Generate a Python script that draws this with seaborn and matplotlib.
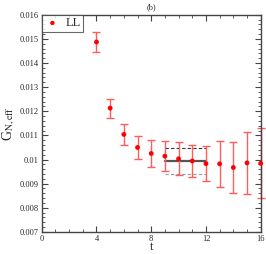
import matplotlib
matplotlib.use("Agg")
import matplotlib.pyplot as plt
from matplotlib.ticker import MultipleLocator
import seaborn as sns
import pandas as pd

# values
t = [4, 5, 6, 7, 8, 9, 10, 11, 12, 13, 14, 15, 16]
g_eff = [0.01487, 0.01213, 0.01104, 0.01050, 0.01025, 0.01014, 0.01003,
         0.00994, 0.00983, 0.00982, 0.00967, 0.00986, 0.00984]
g_err = [0.00040, 0.00039, 0.00045, 0.00048, 0.00057, 0.00062, 0.00068,
         0.00066, 0.00072, 0.00095, 0.00105, 0.00127, 0.00145]

# plateau fit over t = 9..12
fit_t = [9, 12]
fit_val = 0.00995
fit_hi = 0.01046
fit_lo = 0.00941

df = pd.DataFrame({"t": t, "G": g_eff, "err": g_err})

sns.set_style("ticks")
plt.rcParams["font.family"] = ["Liberation Serif", "DejaVu Serif"]
plt.rcParams["mathtext.fontset"] = "stix"

fig = plt.figure(figsize=(2.66, 2.54), dpi=100)
ax = fig.add_axes([0.157, 0.087, 0.823, 0.855])

ax.errorbar(df["t"], df["G"], yerr=df["err"], fmt="none", ecolor="#ff5c5c",
            elinewidth=1.0, capsize=3, capthick=1.0, zorder=2, clip_on=False)
sns.scatterplot(data=df, x="t", y="G", color="red", s=12, edgecolor="none",
                label="LL", ax=ax, zorder=3, clip_on=False)

ax.plot(fit_t, [fit_val, fit_val], color="#555555", lw=1.6, zorder=1)
ax.plot(fit_t, [fit_hi, fit_hi], color="#333333", lw=0.8, ls=(0, (3, 2)), zorder=1)
ax.plot(fit_t, [fit_lo, fit_lo], color="#999999", lw=0.8, ls=(0, (3, 2)), zorder=1)

ax.set_xlim(0, 16)
ax.set_ylim(0.007, 0.016)
ax.xaxis.set_major_locator(MultipleLocator(4))
ax.xaxis.set_minor_locator(MultipleLocator(1))
ax.yaxis.set_major_locator(MultipleLocator(0.001))
ax.yaxis.set_minor_locator(MultipleLocator(0.0002))
ax.set_xticks([0, 4, 8, 12, 16], ["0", "4", "8", "12", "16"])
ax.set_yticks([0.007, 0.008, 0.009, 0.01, 0.011, 0.012, 0.013, 0.014, 0.015, 0.016],
              ["0.007", "0.008", "0.009", "0.01", "0.011", "0.012", "0.013",
               "0.014", "0.015", "0.016"])
ax.tick_params(which="both", direction="in", top=True, right=True,
               labelsize=6, color="#444444", pad=2)
ax.tick_params(which="major", length=4, width=0.8)
ax.tick_params(which="minor", length=2, width=0.6)
for sp in ax.spines.values():
    sp.set_linewidth(1.0)
    sp.set_color("#444444")

ax.set_xlabel("t", fontsize=9, labelpad=-1)
ax.set_ylabel(r"G$_{\mathrm{N,eff}}$", fontsize=10, labelpad=2)
ax.set_title("(b)", fontsize=6, pad=4)

leg = ax.legend(loc="upper left", fontsize=9, frameon=True, fancybox=False,
                borderaxespad=0, handletextpad=0.4, borderpad=0.2,
                handlelength=1.3, markerscale=0.9)
leg.get_frame().set_edgecolor("#444444")
leg.get_frame().set_linewidth(0.8)

fig.savefig("out.png", dpi=100)
